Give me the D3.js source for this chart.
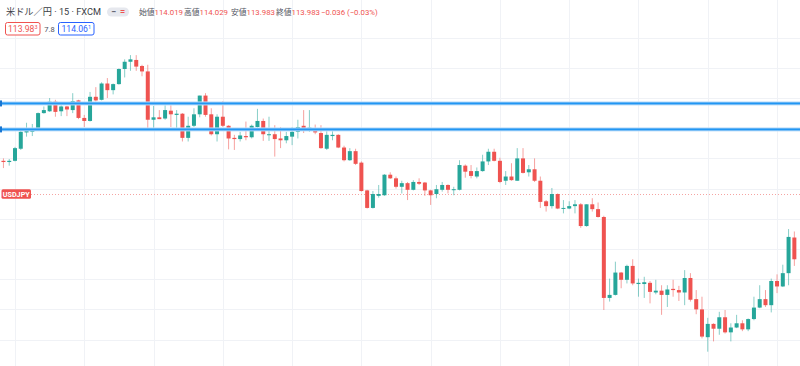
<!DOCTYPE html>
<html><head><meta charset="utf-8">
<script src="https://cdn.jsdelivr.net/npm/d3@7"></script>
<style>html,body{margin:0;padding:0;background:#fff;}svg{display:block;}</style>
</head><body>
<svg id="chart" width="800" height="366"></svg>
<script>
// ---- data (USD/JPY, 15 min, FXCM) ----
const candleIndex = d3.range(138);
const open = [
114.146,114.144,114.146,114.166,114.193,114.194,114.200,114.225,114.228,114.244,
114.228,114.236,114.230,114.246,114.217,114.212,114.252,114.247,114.274,114.263,
114.273,114.298,114.310,114.313,114.303,114.294,114.214,114.218,114.216,114.229,
114.222,114.224,114.184,114.204,114.223,114.254,114.223,114.190,114.219,114.204,
114.184,114.182,114.187,114.185,114.202,114.212,114.189,114.190,114.183,114.180,
114.186,114.194,114.204,114.199,114.200,114.192,114.166,114.187,114.189,114.168,
114.147,114.162,114.143,114.097,114.068,114.088,114.089,114.123,114.117,114.103,
114.109,114.098,114.111,114.110,114.097,114.091,114.098,114.106,114.098,114.098,
114.138,114.129,114.120,114.129,114.145,114.161,114.146,114.113,114.120,114.113,
114.150,114.127,114.132,114.113,114.079,114.071,114.091,114.067,114.067,114.071,
114.074,114.038,114.074,114.066,114.053,113.919,113.924,113.961,113.949,113.972,
113.942,113.942,113.944,113.928,113.931,113.924,113.934,113.932,113.928,113.952,
113.917,113.900,113.854,113.876,113.868,113.887,113.862,113.870,113.877,113.867,
113.884,113.903,113.917,113.907,113.947,113.938,113.960,114.019];
const high = [
114.150,114.149,114.169,114.197,114.209,114.207,114.226,114.236,114.250,114.247,
114.238,114.237,114.258,114.247,114.222,114.260,114.268,114.276,114.283,114.274,
114.299,114.314,114.321,114.321,114.305,114.305,114.237,114.230,114.238,114.238,
114.230,114.225,114.219,114.233,114.254,114.258,114.233,114.223,114.245,114.205,
114.189,114.194,114.211,114.206,114.232,114.216,114.219,114.205,114.202,114.194,
114.202,114.214,114.230,114.230,114.206,114.205,114.195,114.195,114.190,114.171,
114.167,114.166,114.145,114.098,114.096,114.106,114.124,114.127,114.120,114.113,
114.111,114.114,114.117,114.111,114.098,114.106,114.111,114.107,114.103,114.147,
114.140,114.139,114.135,114.156,114.166,114.166,114.151,114.129,114.142,114.167,
114.167,114.139,114.150,114.120,114.081,114.101,114.092,114.081,114.079,114.081,
114.076,114.074,114.084,114.077,114.055,113.951,113.979,113.962,113.974,113.983,
113.951,113.954,113.947,113.949,113.940,113.940,113.949,113.939,113.965,113.960,
113.932,113.921,113.886,113.877,113.896,113.899,113.877,113.891,113.882,113.885,
113.921,113.940,113.932,113.951,113.958,113.974,114.033,114.029];
const low = [
114.134,114.138,114.145,114.164,114.186,114.187,114.199,114.224,114.227,114.219,
114.220,114.220,114.225,114.215,114.202,114.211,114.244,114.246,114.250,114.256,
114.272,114.284,114.295,114.295,114.286,114.199,114.200,114.215,114.214,114.202,
114.200,114.178,114.178,114.202,114.218,114.219,114.188,114.178,114.202,114.165,
114.164,114.178,114.180,114.183,114.201,114.179,114.179,114.153,114.167,114.175,
114.172,114.183,114.192,114.194,114.190,114.166,114.164,114.180,114.167,114.145,
114.146,114.139,114.095,114.067,114.067,114.085,114.088,114.116,114.100,114.092,
114.081,114.097,114.106,114.088,114.073,114.084,114.095,114.092,114.089,114.097,
114.118,114.117,114.117,114.128,114.139,114.145,114.109,114.106,114.113,114.113,
114.125,114.120,114.111,114.068,114.062,114.067,114.066,114.059,114.066,114.059,
114.035,114.037,114.062,114.052,113.899,113.913,113.923,113.935,113.943,113.940,
113.921,113.919,113.910,113.925,113.891,113.904,113.921,113.914,113.907,113.913,
113.892,113.852,113.830,113.847,113.858,113.860,113.847,113.869,113.864,113.864,
113.882,113.902,113.904,113.895,113.927,113.937,113.940,113.972];
const close = [
114.144,114.146,114.167,114.194,114.197,114.200,114.225,114.230,114.244,114.227,
114.236,114.231,114.245,114.217,114.212,114.252,114.246,114.274,114.263,114.273,
114.298,114.310,114.314,114.302,114.294,114.214,114.218,114.215,114.230,114.223,
114.224,114.184,114.204,114.223,114.254,114.222,114.190,114.219,114.204,114.183,
114.182,114.188,114.185,114.204,114.212,114.190,114.190,114.182,114.180,114.187,
114.194,114.202,114.198,114.201,114.193,114.167,114.189,114.189,114.168,114.147,
114.162,114.141,114.096,114.068,114.091,114.091,114.123,114.117,114.103,114.109,
114.098,114.111,114.108,114.097,114.089,114.099,114.106,114.098,114.099,114.139,
114.128,114.121,114.129,114.145,114.161,114.146,114.111,114.120,114.114,114.150,
114.126,114.132,114.113,114.078,114.071,114.091,114.067,114.068,114.071,114.074,
114.038,114.074,114.066,114.053,113.919,113.924,113.961,113.949,113.972,113.943,
113.944,113.945,113.929,113.931,113.924,113.933,113.932,113.928,113.952,113.916,
113.900,113.855,113.876,113.868,113.887,113.862,113.870,113.877,113.867,113.884,
113.903,113.917,113.907,113.947,113.938,113.960,114.020,113.983];

const priceTicks = [113.85,113.90,113.95,114.00,114.05,114.10,114.15,114.20,114.25,114.30,114.35];
const timeGridIdx = [2,14,26,38,50,62,74,86,98,110,122,134];
const hLines = [114.241, 114.198];      // drawn horizontal lines
const symbolLinePrice = 114.091;          // USDJPY line
const symbolLabel = "USDJPY";
const title = "米ドル／円 · 15 · FXCM";
const ohlcLabels = ["始値","高値","安値","終値"];
const ohlcValues = ["114.019","114.029","113.983","113.983"];
const changeText = "−0.036 (−0.03%)";
const sellPrice = ["113.98","3"], buyPrice = ["114.06","1"], spread = "7.8";

// ---- drawing ----
const svg = d3.select("#chart");
const W = 800, H = 366;
const UP = "#26a69a", DOWN = "#ef5350";
const x = d3.scaleLinear().domain([0,137]).range([3.45, 794.35]);
const y = d3.scaleLinear().domain([113.85,114.35]).range([339.6, 37.6]);

svg.append("rect").attr("width",W).attr("height",H).attr("fill","#fff");

const grid = svg.append("g").attr("stroke","#f0f2f6").attr("stroke-width",1);
grid.selectAll(".h").data(priceTicks).join("line")
  .attr("x1",0).attr("x2",W).attr("y1",d=>Math.round(y(d))+0.5).attr("y2",d=>Math.round(y(d))+0.5);
grid.selectAll(".v").data(timeGridIdx).join("line")
  .attr("y1",0).attr("y2",H).attr("x1",d=>Math.round(x(d))+0.5).attr("x2",d=>Math.round(x(d))+0.5);

// symbol price line
const sy = Math.round(y(symbolLinePrice))+0.5;
svg.append("line").attr("x1",31).attr("x2",W).attr("y1",sy).attr("y2",sy)
  .attr("stroke","#f5a4a2").attr("stroke-width",1).attr("stroke-dasharray","1,2");

// candles
const data = candleIndex.map(i=>({i,o:open[i],h:high[i],l:low[i],c:close[i]}));
const cg = svg.append("g");
cg.selectAll("line.w").data(data).join("line")
  .attr("x1",d=>x(d.i)).attr("x2",d=>x(d.i))
  .attr("y1",d=>y(d.h)).attr("y2",d=>y(d.l))
  .attr("stroke",d=>d.c>=d.o?UP:DOWN).attr("stroke-opacity",0.55).attr("stroke-width",1);
cg.selectAll("rect.b").data(data).join("rect")
  .attr("x",d=>x(d.i)-2).attr("width",4)
  .attr("y",d=>y(Math.max(d.o,d.c)))
  .attr("height",d=>Math.max(1,Math.abs(y(d.o)-y(d.c))))
  .attr("fill",d=>d.c>=d.o?UP:DOWN);

// horizontal drawn lines
const hl = svg.append("g");
hLines.forEach(p=>{
  const yy = y(p);
  hl.append("rect").attr("x",0).attr("width",W).attr("y",yy-2).attr("height",4).attr("fill","#bcdcf8");
  hl.append("rect").attr("x",0).attr("width",W).attr("y",yy-1).attr("height",2).attr("fill","#2196f3");
  hl.append("rect").attr("x",0).attr("width",2).attr("y",yy-3).attr("height",6).attr("fill","#1976d2");
});

// symbol label
svg.append("rect").attr("x",1.5).attr("y",y(symbolLinePrice)-4.8).attr("width",29.5).attr("height",9.5)
  .attr("rx",1.5).attr("fill",DOWN);
svg.append("text").attr("x",16.25).attr("y",y(symbolLinePrice)+2.8).attr("text-anchor","middle")
  .attr("font-family","Roboto, 'DejaVu Sans', sans-serif").attr("font-size",7.2).attr("font-weight","bold")
  .attr("fill","#fff").text(symbolLabel);

// header
const FF = "Roboto, 'Noto Sans CJK JP', sans-serif";
svg.append("text").attr("x",6).attr("y",15.3).attr("font-family",FF).attr("font-size",9.2)
  .attr("fill","#3a3d45").text(title);
svg.append("rect").attr("x",107).attr("y",7.5).attr("width",22).attr("height",9).attr("rx",4.5).attr("fill","#e6e8ee");
svg.append("text").attr("x",113.5).attr("y",15).attr("font-family",FF).attr("font-size",9).attr("font-weight","bold")
  .attr("text-anchor","middle").attr("fill","#5d606b").text("−");
svg.append("text").attr("x",122.5).attr("y",15).attr("font-family",FF).attr("font-size",9).attr("font-weight","bold")
  .attr("text-anchor","middle").attr("fill",DOWN).text("=");

const ohlcX = [139,184,231,276];
ohlcLabels.forEach((lab,k)=>{
  const t = svg.append("text").attr("x",ohlcX[k]).attr("y",15).attr("font-family",FF).attr("font-size",7.8);
  t.append("tspan").attr("fill","#50535e").text(lab);
  t.append("tspan").attr("fill",DOWN).text(ohlcValues[k]);
});
svg.append("text").attr("x",321).attr("y",15).attr("font-family",FF).attr("font-size",7.8)
  .attr("fill",DOWN).text(changeText);

// sell / buy boxes
function priceBox(x0, w, color, parts){
  svg.append("rect").attr("x",x0+0.5).attr("y",22.5).attr("width",w).attr("height",12.5).attr("rx",2)
    .attr("fill","#fff").attr("stroke",color).attr("stroke-width",1);
  const t = svg.append("text").attr("x",x0+0.5+w/2).attr("y",31.8).attr("text-anchor","middle")
    .attr("font-family",FF).attr("font-size",8.6).attr("fill",color);
  t.append("tspan").text(parts[0]);
  t.append("tspan").attr("font-size",5.5).attr("dy",-3).text(parts[1]);
}
priceBox(5, 34.5, DOWN, sellPrice);
svg.append("text").attr("x",49.5).attr("y",31.5).attr("text-anchor","middle").attr("font-family",FF)
  .attr("font-size",7.5).attr("fill","#50535e").text(spread);
priceBox(58, 35.5, "#2962ff", buyPrice);
</script>
</body></html>
